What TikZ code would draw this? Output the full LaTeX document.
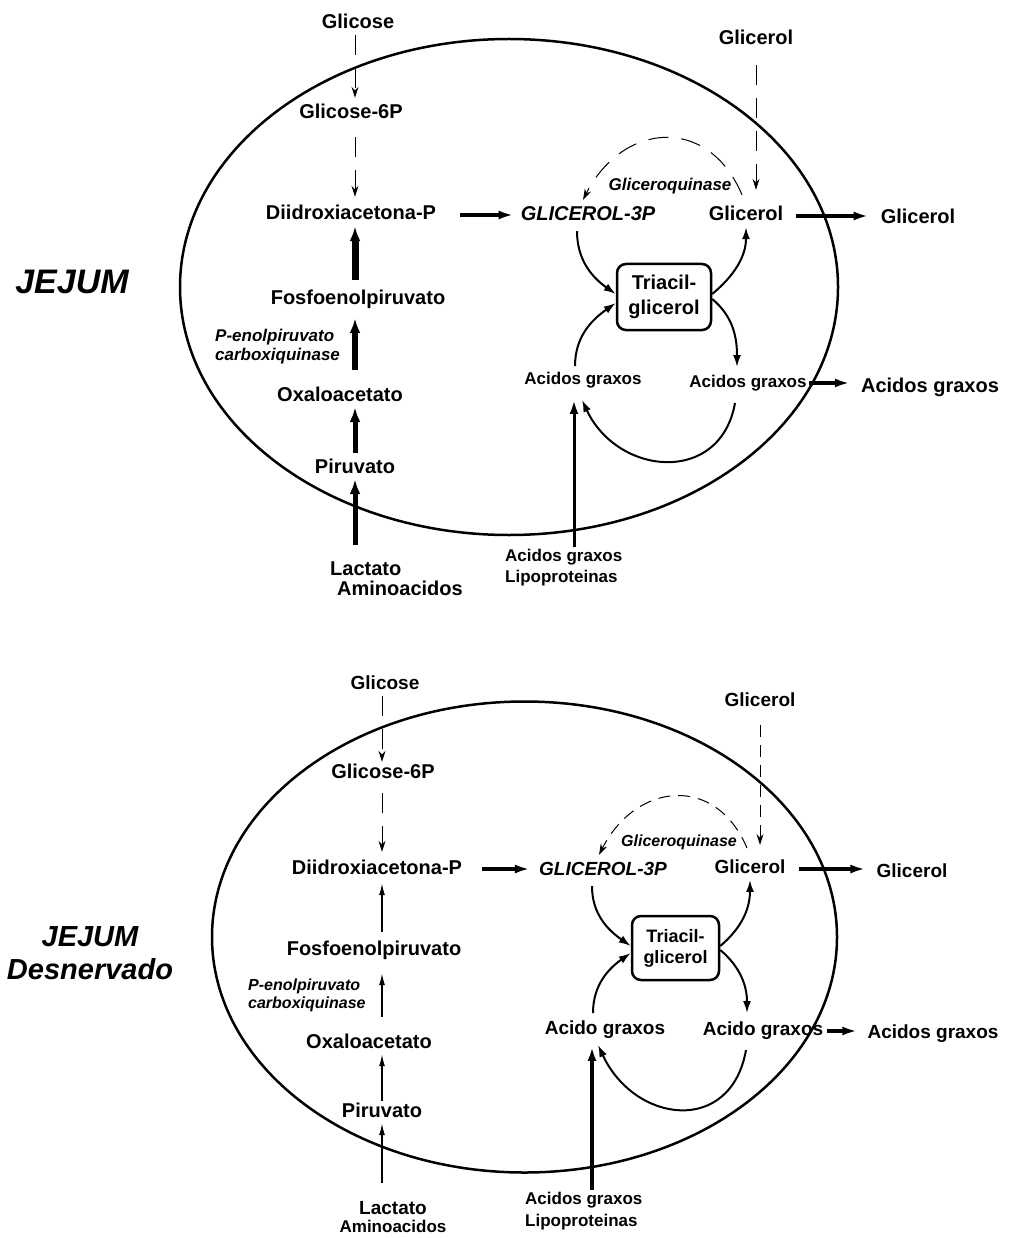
\documentclass[tikz,border=0pt]{standalone}
\usepackage{fontspec}
\setmainfont{Liberation Sans}
\usetikzlibrary{arrows.meta}

\tikzset{
  lbl/.style={font=\bfseries\fontsize{20}{24}\selectfont, inner sep=2pt, text height=14pt, text depth=4pt},
  md/.style={font=\bfseries\fontsize{19}{22}\selectfont, inner sep=2pt, text height=13.5pt, text depth=4pt},
  sml/.style={font=\bfseries\fontsize{17}{20}\selectfont, inner sep=2pt, text height=12pt, text depth=3.5pt},
  gp/.style={lbl, font=\bfseries\itshape\fontsize{20}{24}\selectfont},
  enz/.style={sml, font=\bfseries\itshape\fontsize{17}{20}\selectfont},
  enzb/.style={sml, font=\bfseries\itshape\fontsize{16}{19}\selectfont},
  ttl/.style={font=\bfseries\itshape\fontsize{34}{38}\selectfont, align=center, inner sep=0pt},
  tag/.style={draw, line width=2.5pt, rounded corners=9pt, minimum width=94pt, minimum height=66pt,
              inner sep=0pt, align=center, font=\bfseries\fontsize{20}{25}\selectfont},
  cell/.style={line width=2.5pt},
  kin/.style={line width=1pt, dash pattern=on 20pt off 13pt, -{Stealth[length=11pt,width=7pt]}},
  flux/.style={line width=#1, -{Latex[length=15pt,width=11pt]}},
  hz/.style={line width=3.5pt, -{Latex[length=15pt,width=9pt]}},
  crv/.style={line width=2pt, -{Latex[length=12pt,width=8pt]}},
  thn/.style={line width=1.5pt, -{Latex[length=12pt,width=6pt]}},
  lipo/.style={line width=3pt, -{Latex[length=14pt,width=9pt]}}
}

\begin{document}
\begin{tikzpicture}[x=1pt, y=1pt]
    \useasboundingbox (0,0) rectangle (1015,-1238);

    % ---------- JEJUM ----------
    \node[ttl] (t1) at (72,-282) {JEJUM};
    \draw[cell] (509,-287) ellipse [x radius=329, y radius=248];

    % Left chain
    \coordinate (ax) at (355,0);
    \node[lbl] (gli) at (358,-24) {Glicose};
    \node[lbl] (g6p) at (351,-114) {Glicose-6P};
    \node[lbl] (dia) at (351,-215) {Diidroxiacetona-P};
    \node[lbl] (fos) at (358,-300) {Fosfoenolpiruvato};
    \node[enz, anchor=west] (pep1) at (213,-337) {P-enolpiruvato};
    \node[enz, anchor=west] (pep2) at (213,-356) {carboxiquinase};
    \node[lbl] (oxa) at (340,-396) {Oxaloacetato};
    \node[lbl] (pir) at (355,-468) {Piruvato};
    \node[lbl, anchor=west] (lac) at (328,-570) {Lactato};
    \node[lbl, anchor=west] (ami) at (335,-590) {Aminoacidos};

    % Right side
    \node[gp] (g3p) at (588,-216) {GLICEROL-3P};
    \node[lbl] (glo) at (756,-40) {Glicerol};
    \node[enz] (gk) at (670,-186) {Gliceroquinase};
    \node[lbl] (glin) at (746,-216) {Glicerol};
    \node[lbl] (glx) at (918,-219) {Glicerol};
    \node[tag] (tag) at (664,-297) {Triacil-\\glicerol};
    \node[sml] (acl) at (583,-380) {Acidos graxos};
    \node[sml] (acr) at (748,-383) {Acidos graxos};
    \node[lbl] (acx) at (930,-387) {Acidos graxos};
    \node[sml, anchor=west] (lp1) at (503,-557) {Acidos graxos};
    \node[sml, anchor=west] (lp2) at (503,-578) {Lipoproteinas};
    \coordinate (fa) at (574,0);

    % Arrows
    \draw[kin, shorten >=5pt] (gli.south -| ax) -- (g6p.north -| ax);
    \draw[kin, shorten <=12pt, shorten >=7pt] (g6p.south -| ax) -- (dia.north -| ax);
    \draw[flux=7pt, shorten <=9pt] (fos.north -| ax) -- (dia.south -| ax);
    \draw[flux=6pt, shorten <=15pt, shorten >=7pt] (oxa.north -| ax) -- (fos.south -| ax);
    \draw[flux=5pt, shorten <=4pt] (pir.north -| ax) -- (oxa.south -| ax);
    \draw[flux=5pt, shorten <=14pt] (lac.north -| ax) -- (pir.south -| ax);
    \draw[hz, shorten <=22pt, shorten >=5pt] (dia.east) -- (dia.east -| g3p.west);
    \draw[hz, shorten <=11pt, shorten >=10pt] (glin.east) -- (glin.east -| glx.west);
    \draw[hz, shorten >=9pt] (acr.east) -- (acr.east -| acx.west);
    \draw[kin, shorten <=14pt, shorten >=15pt] (glo.south) -- (glo.south |- glin.north);
    \draw[kin] ([xshift=-4pt,yshift=10pt]glin.north) to[out=113,in=63,looseness=1.4] ([xshift=-5pt,yshift=5pt]g3p.north);
    \draw[crv] ([xshift=-11pt,yshift=-4pt]g3p.south) to[out=-90,in=145] ([yshift=3pt]tag.west);
    \draw[crv] ([xshift=-8pt,yshift=4pt]acl.north) to[out=90,in=215] ([yshift=-6pt]tag.west);
    \draw[crv] ([yshift=3pt]tag.east) to[out=40,in=-90] (glin.south);
    \draw[crv] ([yshift=-2pt]tag.east) to[out=-40,in=90] ([xshift=-11pt,yshift=6pt]acr.north);
    \draw[crv] ([xshift=-13pt,yshift=-10pt]acr.south) to[out=-100,in=-65,looseness=1.4] ([xshift=-1pt,yshift=-10pt]acl.south);
    \draw[lipo, shorten >=10pt] (lp1.north -| fa) -- (acl.south -| fa);

    % ---------- JEJUM Desnervado ----------
    \node[ttl, font=\bfseries\itshape\fontsize{29}{33}\selectfont] (t2) at (90,-953) {JEJUM\\Desnervado};
    \draw[cell] (524.5,-937) ellipse [x radius=312.5, y radius=235.5];

    % Left chain
    \coordinate (bx) at (382,0);
    \node[md] (gli2) at (385,-685) {Glicose};
    \node[lbl] (g6p2) at (383,-773) {Glicose-6P};
    \node[lbl] (dia2) at (377,-869) {Diidroxiacetona-P};
    \node[lbl] (fos2) at (374,-950) {Fosfoenolpiruvato};
    \node[enzb, anchor=west] (pep3) at (246,-986) {P-enolpiruvato};
    \node[enzb, anchor=west] (pep4) at (246,-1004) {carboxiquinase};
    \node[lbl] (oxa2) at (369,-1043) {Oxaloacetato};
    \node[lbl] (pir2) at (382,-1112) {Piruvato};
    \node[md] (lac2) at (393,-1210) {Lactato};
    \node[sml] (ami2) at (393,-1228) {Aminoacidos};

    % Right side
    \node[gp, font=\bfseries\itshape\fontsize{19}{22}\selectfont] (g3p2) at (603,-870) {GLICEROL-3P};
    \node[md] (glo2) at (760,-702) {Glicerol};
    \node[enzb] (gk2) at (679,-842) {Gliceroquinase};
    \node[md] (glin2) at (750,-869) {Glicerol};
    \node[md] (glx2) at (912,-873) {Glicerol};
    \node[tag, minimum width=87pt, minimum height=64pt, font=\bfseries\fontsize{18}{21}\selectfont] (tag2) at (675.5,-948) {Triacil-\\glicerol};
    \node[md] (acl2) at (605,-1030) {Acido graxos};
    \node[md] (acr2) at (763,-1031) {Acido graxos};
    \node[md] (acx2) at (933,-1034) {Acidos graxos};
    \node[sml, anchor=west] (lp3) at (523,-1200) {Acidos graxos};
    \node[sml, anchor=west] (lp4) at (523,-1222) {Lipoproteinas};
    \coordinate (fb) at (592,0);

    % Arrows
    \draw[kin] (gli2.south -| bx) -- (g6p2.north -| bx);
    \draw[kin, shorten <=9pt, shorten >=6pt] (g6p2.south -| bx) -- (dia2.north -| bx);
    \draw[thn, shorten <=7pt, shorten >=3pt] (fos2.north -| bx) -- (dia2.south -| bx);
    \draw[thn, shorten <=15pt, shorten >=12pt] (oxa2.north -| bx) -- (fos2.south -| bx);
    \draw[thn] (pir2.north -| bx) -- (oxa2.south -| bx);
    \draw[thn, shorten <=16pt] (lac2.north -| bx) -- (pir2.south -| bx);
    \draw[hz, shorten <=18pt, shorten >=7pt] (dia2.east) -- (dia2.east -| g3p2.west);
    \draw[hz, shorten <=11pt, shorten >=9pt] (glin2.east) -- (glin2.east -| glx2.west);
    \draw[hz, shorten <=2pt, shorten >=8pt] (acr2.east) -- (acr2.east -| acx2.west);
    \draw[kin, dash pattern=on 12pt off 8pt, shorten <=12pt, shorten >=13pt] (glo2.south) -- (glo2.south |- glin2.north);
    \draw[kin, dash pattern=on 12pt off 8pt] ([xshift=-3pt,yshift=10pt]glin2.north) to[out=113,in=63,looseness=1.4] ([xshift=-4pt,yshift=4pt]g3p2.north);
    \draw[crv] ([xshift=-11pt,yshift=-5pt]g3p2.south) to[out=-90,in=145] ([yshift=2pt]tag2.west);
    \draw[crv] ([xshift=-12pt,yshift=6pt]acl2.north) to[out=90,in=215] ([yshift=-5pt]tag2.west);
    \draw[crv] ([yshift=2pt]tag2.east) to[out=40,in=-90] (glin2.south);
    \draw[crv] ([yshift=-2pt]tag2.east) to[out=-40,in=90] ([xshift=-16pt,yshift=7pt]acr2.north);
    \draw[crv] ([xshift=-17pt,yshift=-8pt]acr2.south) to[out=-100,in=-65,looseness=1.5] ([xshift=-7pt,yshift=-4pt]acl2.south);
    \draw[lipo, line width=3.5pt, shorten >=6pt] (lp3.north -| fb) -- (acl2.south -| fb);

\end{tikzpicture}
\end{document}
